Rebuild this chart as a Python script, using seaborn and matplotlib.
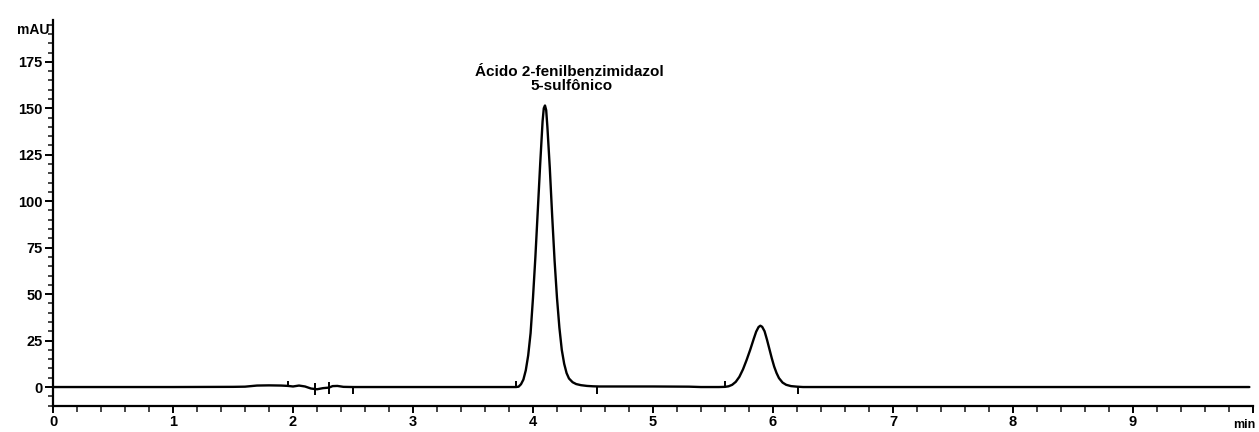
import numpy as np
import pandas as pd
import matplotlib
matplotlib.use("Agg")
import matplotlib.pyplot as plt
from matplotlib.ticker import MultipleLocator
import seaborn as sns

# ---- data (time in min, absorbance in mAU) ----
base_a_t = [0.00, 0.50, 1.00, 1.50, 1.60, 1.65, 1.70, 1.80, 1.90, 1.96, 2.00, 2.05,
            2.10, 2.15, 2.20, 2.25, 2.30, 2.33, 2.37, 2.42, 2.50, 3.00, 3.50, 3.80, 3.86]
base_a_v = [0.0, 0.0, 0.0, 0.1, 0.2, 0.5, 0.8, 0.9, 0.8, 0.6, 0.3, 0.8,
            0.3, -0.8, -1.2, -0.6, -0.3, 0.5, 0.6, 0.1, 0.0, 0.0, 0.0, 0.0, 0.0]

peak1_t = [3.88, 3.90, 3.92, 3.94, 3.96, 3.98, 4.00, 4.02, 4.04, 4.06, 4.08, 4.09,
           4.10, 4.11, 4.12, 4.14, 4.16, 4.18, 4.20, 4.22, 4.24, 4.26, 4.28, 4.30,
           4.33, 4.36, 4.40, 4.45, 4.50]
peak1_v = [0.2, 1.5, 4.0, 9.0, 17.0, 29.0, 48.0, 70.0, 95.0, 120.0, 143.0, 150.0,
           151.5, 149.0, 140.0, 118.0, 92.0, 68.0, 48.0, 32.0, 20.0, 12.5, 7.5, 4.6,
           2.6, 1.6, 1.0, 0.6, 0.4]

base_b_t = [4.55, 4.60, 5.00, 5.30, 5.40, 5.55, 5.60]
base_b_v = [0.3, 0.3, 0.3, 0.2, 0.0, 0.0, 0.1]

peak2_t = [5.63, 5.66, 5.69, 5.72, 5.75, 5.78, 5.81, 5.84, 5.86, 5.88, 5.895, 5.91,
           5.93, 5.95, 5.97, 5.99, 6.01, 6.03, 6.05, 6.08, 6.11, 6.15, 6.20]
peak2_v = [0.4, 1.2, 2.8, 5.5, 9.5, 14.5, 20.0, 26.0, 29.8, 32.3, 33.0, 32.4,
           30.0, 25.5, 20.5, 15.5, 11.0, 7.5, 4.8, 2.4, 1.2, 0.5, 0.2]

base_c_t = [6.25, 7.00, 8.00, 9.00, 9.97]
base_c_v = [0.0, 0.0, 0.0, 0.0, 0.0]

# integration event marks: time, low, high (mAU)
mark_t = [1.96, 2.18, 2.30, 2.50, 3.86, 4.53, 5.60, 6.21]
mark_lo = [0.0, -4.5, -4.0, -3.5, 0.0, -3.5, 0.0, -3.5]
mark_hi = [3.0, 2.0, 2.5, 0.0, 3.0, 0.0, 3.0, 0.0]

y_ticks = [0, 25, 50, 75, 100, 125, 150, 175]
x_ticks = [0, 1, 2, 3, 4, 5, 6, 7, 8, 9, 10]
x_labels = ["0", "1", "2", "3", "4", "5", "6", "7", "8", "9", ""]

peak_label_1 = "Ácido 2-fenilbenzimidazol"
peak_label_2 = "5-sulfônico"

# ---- build table ----
df = pd.DataFrame({
    "t": base_a_t + peak1_t + base_b_t + peak2_t + base_c_t,
    "v": base_a_v + peak1_v + base_b_v + peak2_v + base_c_v,
})

sns.set_style("ticks")
plt.rcParams["font.family"] = ["Liberation Sans", "DejaVu Sans"]
plt.rcParams["font.weight"] = "bold"

fig = plt.figure(figsize=(12.59, 4.32), dpi=100)
ax = fig.add_axes([0.0421, 0.0602, 0.9531, 0.8935])

sns.lineplot(data=df, x="t", y="v", ax=ax, color="black", linewidth=1.7,
             sort=False, estimator=None)
ax.vlines(mark_t, mark_lo, mark_hi, color="black", linewidth=1.4)

ax.set_xlim(0, 10)
ax.set_ylim(-10.2, 197.5)
ax.set_xlabel("")
ax.set_ylabel("")

for s in ["top", "right"]:
    ax.spines[s].set_visible(False)
for s in ["left", "bottom"]:
    ax.spines[s].set_linewidth(1.6)
    ax.spines[s].set_color("black")

ax.set_xticks(x_ticks)
ax.set_xticklabels(x_labels)
ax.xaxis.set_minor_locator(MultipleLocator(0.2))
ax.set_yticks(y_ticks)
ax.yaxis.set_minor_locator(MultipleLocator(5))

ax.tick_params(axis="x", which="major", direction="out", length=5, width=1.4,
               pad=1.5, labelsize=10.5, colors="black")
ax.tick_params(axis="x", which="minor", direction="out", length=4, width=1.2)
ax.tick_params(axis="y", which="major", direction="out", length=6, width=1.4,
               pad=1.5, labelsize=10.5, colors="black")
ax.tick_params(axis="y", which="minor", direction="out", length=3.5, width=1.2)
for lab in ax.get_xticklabels() + ax.get_yticklabels():
    lab.set_fontweight("bold")

ax.text(4.30, 169.5, peak_label_1, ha="center", va="center", fontsize=11,
        fontweight="bold", color="black")
ax.text(4.32, 162.0, peak_label_2, ha="center", va="center", fontsize=11,
        fontweight="bold", color="black")

fig.text(50 / 1259, 1 - 30 / 432, "mAU", ha="right", va="center",
         fontsize=10, fontweight="bold", color="black")
fig.text(1244 / 1259, 1 - 425 / 432, "min", ha="center", va="center",
         fontsize=9, fontweight="bold", color="black")

fig.savefig("out.png", dpi=100, facecolor="white")
